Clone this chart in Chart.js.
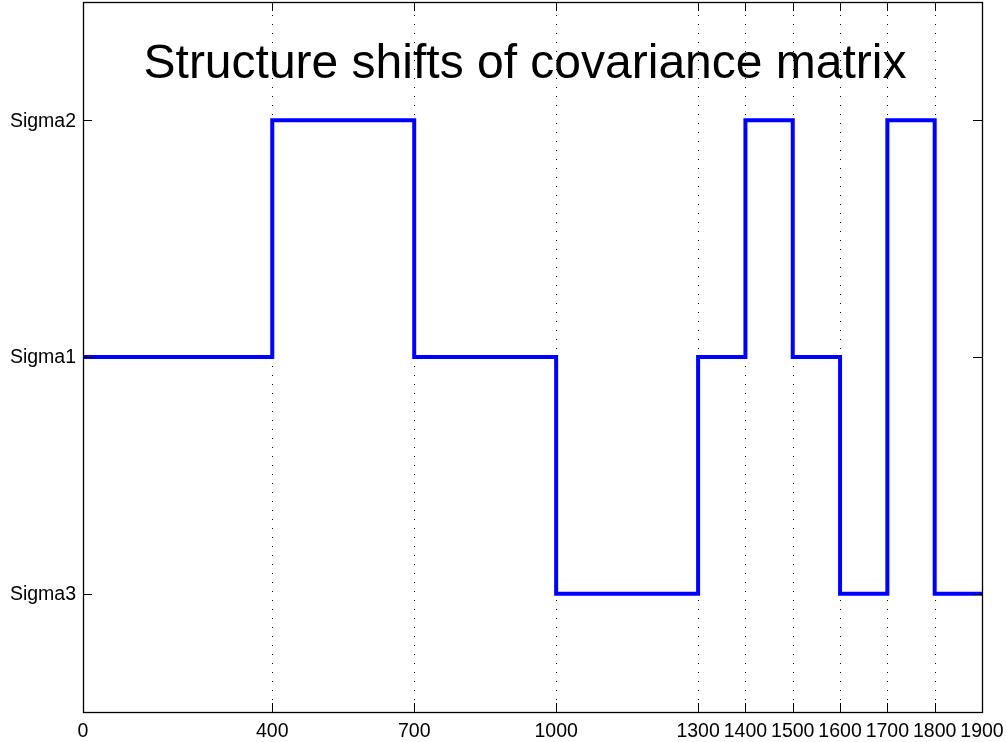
<!DOCTYPE html>
<html>
<head>
<meta charset="utf-8">
<script src="https://cdn.jsdelivr.net/npm/chart.js@4"></script>
<style>
html,body{margin:0;padding:0;background:#fff;}
#wrap{width:1006px;height:742px;position:relative;}
</style>
</head>
<body>
<div id="wrap"><canvas id="c" width="1006" height="742"></canvas></div>
<script>
// Data
const changePoints = [0, 400, 700, 1000, 1300, 1400, 1500, 1600, 1700, 1800, 1900];
const regimeLevels = [2, 3, 2, 1, 2, 3, 2, 1, 3, 1, 1];
const xTickValues = [0, 400, 700, 1000, 1300, 1400, 1500, 1600, 1700, 1800, 1900];
const yTickValues = [1, 2, 3];
const yTickLabels = ['Sigma3', 'Sigma1', 'Sigma2'];
const chartTitle = 'Structure shifts of covariance matrix';

const FONT = 'Liberation Sans, Arial, Helvetica, sans-serif';
const TICK_FONT_SIZE = 19.5;

const points = changePoints.map((x, i) => ({x: x, y: regimeLevels[i]}));

const TL = 9;

const gridPlugin = {
  id: 'dotgrid',
  beforeDatasetsDraw(chart) {
    const {ctx, chartArea: a, scales} = chart;
    ctx.save();
    ctx.strokeStyle = '#000';
    ctx.lineWidth = 1;
    ctx.setLineDash([1, 8]);
    ctx.beginPath();
    xTickValues.forEach(v => {
      const px = Math.round(scales.x.getPixelForValue(v)) + 0.5;
      if (px <= a.left + 2 || px >= a.right - 2) return;
      ctx.moveTo(px, a.top + TL + 4);
      ctx.lineTo(px, a.bottom - TL);
    });
    ctx.stroke();
    ctx.restore();
  }
};

const framePlugin = {
  id: 'frame',
  afterDatasetsDraw(chart) {
    const {ctx, chartArea: a, scales} = chart;
    ctx.save();
    ctx.strokeStyle = '#000';
    ctx.lineWidth = 1;
    ctx.beginPath();
    xTickValues.forEach(v => {
      const px = Math.round(scales.x.getPixelForValue(v)) + 0.5;
      ctx.moveTo(px, a.bottom); ctx.lineTo(px, a.bottom - TL);
      ctx.moveTo(px, a.top); ctx.lineTo(px, a.top + TL);
    });
    yTickValues.forEach(v => {
      const py = Math.round(scales.y.getPixelForValue(v)) + 0.5;
      ctx.moveTo(a.left, py); ctx.lineTo(a.left + TL, py);
      ctx.moveTo(a.right, py); ctx.lineTo(a.right - TL, py);
    });
    ctx.stroke();
    ctx.lineWidth = 1.3;
    ctx.strokeRect(Math.round(a.left) + 0.5, Math.round(a.top) + 0.5, Math.round(a.right - a.left), Math.round(a.bottom - a.top));
    // tick labels
    ctx.fillStyle = '#000';
    ctx.font = TICK_FONT_SIZE + 'px ' + FONT;
    ctx.textAlign = 'right';
    ctx.textBaseline = 'middle';
    yTickValues.forEach((v, i) => {
      ctx.fillText(yTickLabels[i], a.left - 7, scales.y.getPixelForValue(v) + 1);
    });
    ctx.textAlign = 'center';
    ctx.textBaseline = 'alphabetic';
    xTickValues.forEach(v => {
      ctx.fillText(String(v), scales.x.getPixelForValue(v), a.bottom + 25);
    });
    // title inside plot
    ctx.font = '48px ' + FONT;
    ctx.fillText(chartTitle, 525, 78);
    ctx.restore();
  }
};

new Chart(document.getElementById('c'), {
  type: 'line',
  data: {
    datasets: [{
      data: points,
      stepped: 'before',
      borderColor: '#0000ff',
      borderWidth: 4,
      pointRadius: 0,
      fill: false,
      clip: false
    }]
  },
  options: {
    responsive: false,
    animation: false,
    devicePixelRatio: 1,
    layout: {padding: {left: 0, right: 24, top: 2, bottom: 0}},
    plugins: {legend: {display: false}, title: {display: false}, tooltip: {enabled: false}},
    scales: {
      x: {
        type: 'linear',
        min: 0, max: 1900,
        afterBuildTicks: s => { s.ticks = xTickValues.map(v => ({value: v})); },
        afterFit: s => { s.height = 30; },
        border: {display: false},
        grid: {display: false, drawTicks: false},
        ticks: {display: false}
      },
      y: {
        type: 'linear',
        min: 0.5, max: 3.5,
        afterBuildTicks: s => { s.ticks = yTickValues.map(v => ({value: v})); },
        afterFit: s => { s.width = 83; },
        border: {display: false},
        grid: {display: false, drawTicks: false},
        ticks: {display: false}
      }
    }
  },
  plugins: [gridPlugin, framePlugin]
});
</script>
</body>
</html>
